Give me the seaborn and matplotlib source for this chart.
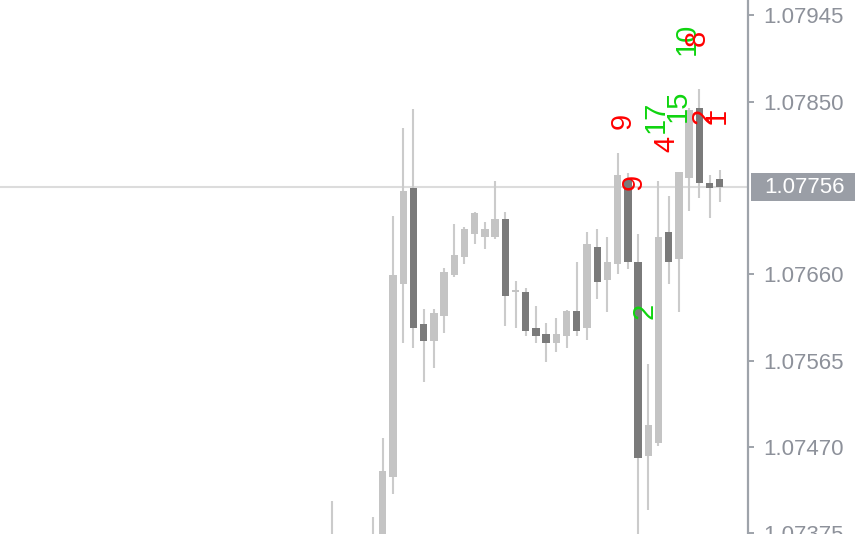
import matplotlib
matplotlib.use("Agg")
import matplotlib.pyplot as plt
import matplotlib.transforms as mtransforms
from matplotlib.patches import Rectangle
import numpy as np
import pandas as pd
import seaborn as sns

# OHLC of the visible bars (oldest -> newest)
opens = [1.07324, 1.07302, 1.07335, 1.07313, 1.07302, 1.07346, 1.07437, 1.07649, 1.07755, 1.07605,
         1.07587, 1.07614, 1.07659, 1.07679, 1.07704, 1.07701, 1.07701, 1.07721, 1.07640, 1.07640,
         1.07601, 1.07594, 1.07584, 1.07592, 1.07620, 1.07601, 1.07690, 1.07654, 1.07671, 1.07765,
         1.07673, 1.07460, 1.07474, 1.07707, 1.07677, 1.07766, 1.07843, 1.07760, 1.07765]
highs = [1.07410, 1.07362, 1.07351, 1.07368, 1.07393, 1.07480, 1.07724, 1.07821, 1.07842, 1.07622,
         1.07622, 1.07667, 1.07715, 1.07712, 1.07729, 1.07718, 1.07763, 1.07729, 1.07653, 1.07645,
         1.07625, 1.07606, 1.07612, 1.07621, 1.07673, 1.07706, 1.07710, 1.07701, 1.07793, 1.07771,
         1.07704, 1.07561, 1.07763, 1.07746, 1.07773, 1.07843, 1.07864, 1.07769, 1.07775]
lows = [1.07302, 1.07291, 1.07280, 1.07302, 1.07291, 1.07329, 1.07418, 1.07584, 1.07579, 1.07542,
        1.07557, 1.07595, 1.07657, 1.07671, 1.07693, 1.07688, 1.07699, 1.07603, 1.07601, 1.07592,
        1.07584, 1.07564, 1.07575, 1.07579, 1.07592, 1.07588, 1.07633, 1.07618, 1.07660, 1.07666,
        1.07362, 1.07401, 1.07471, 1.07649, 1.07618, 1.07730, 1.07744, 1.07722, 1.07739]
closes = [1.07362, 1.07346, 1.07302, 1.07357, 1.07362, 1.07444, 1.07659, 1.07752, 1.07601, 1.07587,
          1.07617, 1.07662, 1.07681, 1.07710, 1.07727, 1.07710, 1.07721, 1.07636, 1.07643, 1.07598,
          1.07592, 1.07584, 1.07594, 1.07620, 1.07598, 1.07693, 1.07651, 1.07673, 1.07769, 1.07674,
          1.07458, 1.07494, 1.07701, 1.07673, 1.07772, 1.07841, 1.07760, 1.07755, 1.07756]

tick_prices = [1.07945, 1.07850, 1.07660, 1.07565, 1.07470, 1.07375]
last_price = 1.07756

# rotated count labels: text, bar position, price, colour
label_text = ["10", "8", "17", "15", "4", "9", "9", "2", "1", "2"]
label_bar = [34.75, 35.78, 31.76, 33.87, 32.74, 28.53, 29.61, 36.46, 37.74, 30.59]
label_price = [1.07919, 1.07920, 1.07833, 1.07845, 1.07803, 1.07829, 1.07762, 1.07834, 1.07834, 1.07620]
label_color = ["lime", "red", "lime", "lime", "red", "red", "red", "red", "red", "lime"]

df = pd.DataFrame({"o": opens, "h": highs, "l": lows, "c": closes})
df["x"] = np.arange(len(df))
df["up"] = df["c"] >= df["o"]

sns.set_theme(style="white")
plt.rcParams["font.family"] = ["Liberation Sans", "DejaVu Sans"]

AX_COL = "#9ea3aa"
TXT_COL = "#8d919a"
colors = {"lime": "#0fd40f", "red": "#ff0000"}

fig = plt.figure(figsize=(8.55, 5.34), dpi=100)
ax = fig.add_axes([0, 0, 748 / 855, 1])

ax.axhline(last_price, color="#dcdcdc", lw=1.5, zorder=1)

ax.vlines(df["x"], df["l"], df["h"], color="#cbcbcb", lw=1.5, zorder=2)
body_h = (df["c"] - df["o"]).abs().clip(lower=0.00002)
body_b = df[["o", "c"]].min(axis=1)
ax.bar(df["x"], body_h, bottom=body_b, width=0.72,
       color=np.where(df["up"], "#c4c4c4", "#7a7a7a"), linewidth=0, zorder=3)

for t, xb, pr, cl in zip(label_text, label_bar, label_price, label_color):
    ax.text(xb, pr, t, rotation=90, ha="center", va="center", fontsize=21,
            color=colors[cl], zorder=5)

ax.set_xlim(-32.49, 40.77)
ax.set_ylim(1.073742, 1.079618)
ax.set_xticks([])
ax.yaxis.tick_right()
ax.set_yticks(tick_prices)
ax.set_yticklabels([f"{p:.5f}" for p in tick_prices])
ax.tick_params(axis="y", right=True, length=4.5, width=1.4, color=AX_COL,
               pad=6.5, labelsize=16, labelcolor=TXT_COL)
for s in ["top", "left", "bottom"]:
    ax.spines[s].set_visible(False)
ax.spines["right"].set_color(AX_COL)
ax.spines["right"].set_linewidth(1.6)

# current price tag
tr = mtransforms.blended_transform_factory(fig.transFigure, ax.transData)
half = 0.000154
ax.add_patch(Rectangle((751 / 855, last_price - half), 110 / 855, 2 * half,
                       transform=tr, facecolor="#9a9ea6", edgecolor="none",
                       clip_on=False, zorder=6))
ax.text(764 / 855, last_price, f"{last_price:.5f}", transform=tr, ha="left",
        va="center", fontsize=16, color="white", zorder=7, clip_on=False)

fig.savefig("out.png", dpi=100)
